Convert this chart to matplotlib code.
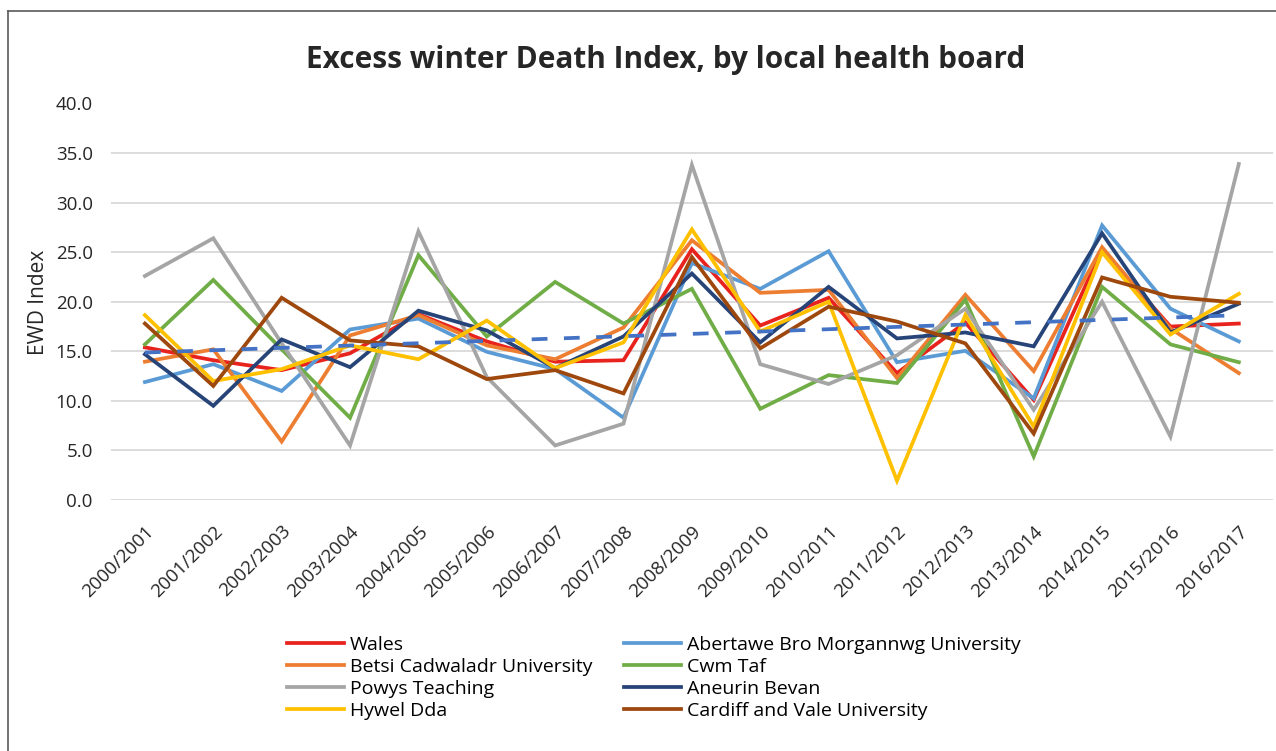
import numpy as np
import matplotlib
matplotlib.use("Agg")
import matplotlib.pyplot as plt
from matplotlib.lines import Line2D

plt.rcParams["font.family"] = ["Open Sans", "DejaVu Sans"]

years = ["2000/2001", "2001/2002", "2002/2003", "2003/2004", "2004/2005",
         "2005/2006", "2006/2007", "2007/2008", "2008/2009", "2009/2010",
         "2010/2011", "2011/2012", "2012/2013", "2013/2014", "2014/2015",
         "2015/2016", "2016/2017"]

wales = [15.4, 14.1, 13.1, 14.8, 18.75, 16.0, 13.95, 14.1, 25.3, 17.6,
         20.4, 12.8, 17.9, 10.1, 25.3, 17.5, 17.8]
abertawe = [11.9, 13.7, 11.0, 17.2, 18.3, 14.95, 13.2, 8.3, 23.9, 21.3,
            25.1, 13.9, 15.05, 10.25, 27.7, 19.3, 16.0]
betsi = [13.95, 15.2, 5.9, 16.6, 18.65, 15.6, 14.2, 17.4, 26.2, 20.9,
         21.2, 12.3, 20.7, 13.0, 25.5, 17.3, 12.8]
cwm_taf = [15.7, 22.2, 15.2, 8.3, 24.7, 16.5, 22.0, 17.8, 21.3, 9.2,
           12.6, 11.8, 20.2, 4.4, 21.5, 15.7, 13.9]
powys = [22.6, 26.4, 15.8, 5.5, 27.1, 12.4, 5.5, 7.7, 33.8, 13.7,
         11.7, 14.6, 19.3, 9.1, 20.0, 6.4, 33.9]
aneurin = [14.7, 9.5, 16.2, 13.4, 19.1, 17.1, 13.3, 16.5, 22.85, 15.9,
           21.5, 16.3, 16.9, 15.5, 26.9, 16.9, 19.8]
hywel = [18.65, 12.0, 13.2, 15.6, 14.2, 18.1, 13.3, 15.9, 27.3, 17.0,
         20.0, 1.95, 18.65, 7.4, 25.0, 16.7, 20.8]
cardiff = [17.8, 11.5, 20.4, 16.1, 15.5, 12.2, 13.1, 10.75, 24.5, 15.3,
           19.5, 18.0, 15.8, 6.7, 22.45, 20.5, 19.9]

# plotting order (Excel series order)
series = [
    ("Wales", wales, "#E8231E"),
    ("Abertawe Bro Morgannwg University", abertawe, "#5B9BD5"),
    ("Betsi Cadwaladr University", betsi, "#ED7D31"),
    ("Cwm Taf", cwm_taf, "#70AD47"),
    ("Powys Teaching", powys, "#A5A5A5"),
    ("Aneurin Bevan", aneurin, "#264478"),
    ("Hywel Dda", hywel, "#FFC000"),
    ("Cardiff and Vale University", cardiff, "#9E480E"),
]

W, H = 1276, 751
fig = plt.figure(figsize=(W / 100, H / 100), dpi=100)
ax = fig.add_axes([110.75 / W, 1 - 500 / H, (1273 - 110.75) / W, (500 - 103.5) / H])

x = np.arange(len(years))
handles = {}
for name, vals, col in series:
    ln, = ax.plot(x, vals, color=col, lw=2.7, label=name, solid_joinstyle="miter")
    handles[name] = ln

# linear trend of Wales
coef = np.polyfit(x, wales, 1)
ax.plot(x, np.polyval(coef, x), color="#4472C4", lw=2.7, ls=(0, (4.2, 4.4)),
        dash_capstyle="butt", zorder=5)

ax.set_xlim(-0.5, len(years) - 0.5)
ax.set_ylim(0, 40)
ax.set_yticks(np.arange(0, 41, 5))
ax.set_yticklabels([f"{v:.1f}" for v in np.arange(0, 41, 5)])
ax.set_xticks(x)
ax.set_xticklabels(years, rotation=45, ha="right", rotation_mode="anchor")
ax.tick_params(axis="both", length=0, colors="#262626")
ax.tick_params(axis="y", pad=13, labelsize=13.5)
ax.tick_params(axis="x", pad=16, labelsize=13.5)
ax.grid(axis="y", color="#D9D9D9", lw=1.3)
ax.set_axisbelow(True)
for s in ax.spines.values():
    s.set_visible(False)

fig.text(38 / W, 1 - 302 / H, "EWD Index", rotation=90, ha="center", va="center",
         fontsize=15, color="#262626")
fig.text(665.5 / W, 1 - 60 / H, "Excess winter Death Index, by local health board",
         ha="center", va="center", fontsize=21.4, fontweight="bold", color="#262626")

order = ["Wales", "Betsi Cadwaladr University", "Powys Teaching", "Hywel Dda",
         "Abertawe Bro Morgannwg University", "Cwm Taf", "Aneurin Bevan",
         "Cardiff and Vale University"]
fig.legend([handles[n] for n in order], order, ncol=2, frameon=False,
           loc="upper left", bbox_to_anchor=(287 / W, 1 - 636 / H),
           borderpad=0, borderaxespad=0, fontsize=14, labelspacing=0.2,
           handlelength=2.95, handletextpad=0.3, columnspacing=1.6)

# chart border (left and top visible)
fig.add_artist(Line2D([7.5 / W, 7.5 / W], [0, 1 - 10.5 / H], color="#595959", lw=1.2))
fig.add_artist(Line2D([7.5 / W, 1], [1 - 10.5 / H, 1 - 10.5 / H], color="#595959", lw=1.2))

fig.savefig("out.png", dpi=100)
